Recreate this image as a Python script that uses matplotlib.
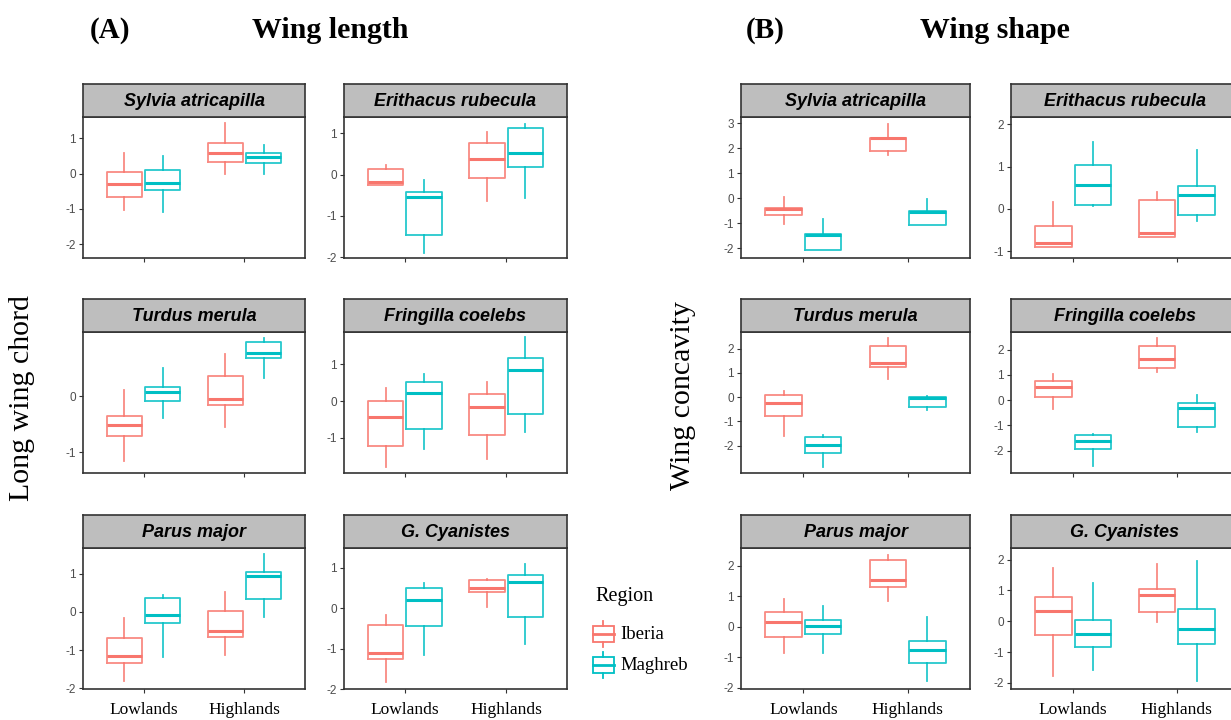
import matplotlib
matplotlib.use("Agg")
import matplotlib.pyplot as plt
from matplotlib.patches import Rectangle

plt.rcParams['axes.unicode_minus'] = False

W, H = 1231, 720

species = ['Sylvia atricapilla', 'Erithacus rubecula', 'Turdus merula',
           'Fringilla coelebs', 'Parus major', 'G. Cyanistes']
habitats = ['Lowlands', 'Highlands']
regions = ['Iberia', 'Maghreb']
colors = {'Iberia': '#F8766D', 'Maghreb': '#00BFC4'}

# five-number summaries (whisker low, q1, median, q3, whisker high), per species
length_iberia_low = [(-1.02, -0.67, -0.29, 0.03, 0.57), (-0.26, -0.26, -0.18, 0.14, 0.23),
                     (-1.15, -0.70, -0.52, -0.36, 0.11), (-1.79, -1.21, -0.44, 0.0, 0.36),
                     (-1.82, -1.34, -1.16, -0.68, -0.15), (-1.82, -1.26, -1.10, -0.41, -0.17)]
length_maghreb_low = [(-1.09, -0.47, -0.28, 0.09, 0.50), (-1.89, -1.47, -0.53, -0.43, -0.14),
                      (-0.39, -0.08, 0.08, 0.17, 0.51), (-1.31, -0.75, 0.21, 0.52, 0.73),
                      (-1.19, -0.29, -0.09, 0.37, 0.43), (-1.16, -0.44, 0.20, 0.50, 0.62)]
length_iberia_high = [(-0.02, 0.33, 0.59, 0.87, 1.42), (-0.64, -0.09, 0.39, 0.77, 1.04),
                      (-0.54, -0.15, -0.05, 0.36, 0.75), (-1.58, -0.91, -0.15, 0.19, 0.52),
                      (-1.13, -0.66, -0.50, 0.03, 0.53), (0.02, 0.39, 0.49, 0.71, 0.73)]
length_maghreb_high = [(-0.02, 0.31, 0.46, 0.57, 0.81), (-0.56, 0.19, 0.53, 1.14, 1.22),
                       (0.33, 0.68, 0.78, 0.98, 1.05), (-0.83, -0.36, 0.83, 1.16, 1.73),
                       (-0.13, 0.34, 0.95, 1.05, 1.52), (-0.89, -0.21, 0.64, 0.83, 1.10)]

shape_iberia_low = [(-1.03, -0.68, -0.42, -0.39, 0.04), (-0.89, -0.89, -0.81, -0.41, 0.16),
                    (-1.59, -0.77, -0.26, 0.10, 0.25), (-0.36, 0.11, 0.50, 0.76, 1.05),
                    (-0.87, -0.32, 0.16, 0.48, 0.91), (-1.78, -0.46, 0.32, 0.79, 1.74)]
shape_maghreb_low = [(-2.08, -2.08, -1.46, -1.44, -0.84), (0.06, 0.09, 0.57, 1.03, 1.57),
                     (-2.87, -2.30, -1.98, -1.66, -1.57), (-2.63, -1.95, -1.61, -1.39, -1.34),
                     (-0.87, -0.23, 0.03, 0.24, 0.69), (-1.57, -0.85, -0.42, 0.04, 1.24)]
shape_iberia_high = [(1.73, 1.87, 2.39, 2.42, 2.98), (-0.66, -0.66, -0.58, 0.21, 0.40),
                     (0.74, 1.22, 1.39, 2.10, 2.45), (1.12, 1.29, 1.64, 2.13, 2.46),
                     (0.85, 1.31, 1.55, 2.21, 2.35), (-0.01, 0.29, 0.84, 1.04, 1.85)]
shape_maghreb_high = [(-1.07, -1.07, -0.55, -0.52, -0.03), (-0.29, -0.14, 0.33, 0.53, 1.40),
                      (-0.54, -0.40, -0.05, 0.0, 0.04), (-1.28, -1.07, -0.33, -0.11, 0.22),
                      (-1.78, -1.17, -0.77, -0.45, 0.32), (-1.94, -0.75, -0.24, 0.40, 1.95)]

length_ylims = [(-2.39, 1.60), (-2.02, 1.40), (-1.37, 1.15), (-1.95, 1.87), (-2.02, 1.67), (-2.0, 1.49)]
length_ticks = [[-2, -1, 0, 1], [-2, -1, 0, 1], [-1, 0], [-1, 0, 1], [-2, -1, 0, 1], [-2, -1, 0, 1]]
shape_ylims = [(-2.38, 3.24), (-1.16, 2.17), (-3.13, 2.68), (-2.89, 2.70), (-2.04, 2.59), (-2.2, 2.38)]
shape_ticks = [[-2, -1, 0, 1, 2, 3], [-1, 0, 1, 2], [-2, -1, 0, 1, 2], [-2, -1, 0, 1, 2],
               [-2, -1, 0, 1, 2], [-2, -1, 0, 1, 2]]


def px_axes(fig, x0, y0, x1, y1):
    return fig.add_axes([x0 / W, 1 - y1 / H, (x1 - x0) / W, (y1 - y0) / H])


def stats(five):
    lo, q1, med, q3, hi = five
    return dict(whislo=lo, q1=q1, med=med, q3=q3, whishi=hi, fliers=[])


fig = plt.figure(figsize=(W / 100, H / 100), dpi=100)

rows = [(84, 117, 258), (299, 332, 473), (515, 548, 689)]
left_cols = [(83, 305), (344, 567)]
right_cols = [(741, 970), (1011, 1239)]

panels = [
    (left_cols, length_iberia_low, length_iberia_high, length_maghreb_low, length_maghreb_high,
     length_ylims, length_ticks),
    (right_cols, shape_iberia_low, shape_iberia_high, shape_maghreb_low, shape_maghreb_high,
     shape_ylims, shape_ticks),
]

for cols, ib_lo, ib_hi, ma_lo, ma_hi, ylims, ticks in panels:
    for i, sp in enumerate(species):
        r, c = divmod(i, 2)
        st, pt, pb = rows[r]
        x0, x1 = cols[c]
        ax = px_axes(fig, x0, pt, x1, pb)
        for reg, lo, hi, off in [('Iberia', ib_lo, ib_hi, -0.19), ('Maghreb', ma_lo, ma_hi, 0.19)]:
            col = colors[reg]
            ax.bxp([stats(lo[i]), stats(hi[i])], positions=[1 + off, 2 + off], widths=0.35,
                   showfliers=False, showcaps=False, patch_artist=False,
                   boxprops=dict(color=col, lw=1.3, alpha=0.85),
                   whiskerprops=dict(color=col, lw=1.3, alpha=0.85),
                   medianprops=dict(color=col, lw=2.2))
        ax.set_xlim(0.4, 2.6)
        ax.set_ylim(*ylims[i])
        ax.set_yticks(ticks[i])
        ax.set_yticklabels([str(t) for t in ticks[i]], fontsize=8.5, color='#4D4D4D',
                           family='Liberation Sans')
        ax.set_xticks([1, 2])
        if r == 2:
            ax.set_xticklabels(habitats, fontsize=12.5, family='Liberation Serif', color='black')
            ax.tick_params(axis='x', pad=6)
        else:
            ax.set_xticklabels([])
        ax.tick_params(length=3, width=0.8, color='#333333')
        ax.tick_params(axis='y', pad=2)
        for s in ax.spines.values():
            s.set_color('#333333')
            s.set_linewidth(1.2)

        sax = px_axes(fig, x0, st, x1, pt)
        sax.set_facecolor('#BEBEBE')
        sax.set_xticks([])
        sax.set_yticks([])
        for s in sax.spines.values():
            s.set_color('#333333')
            s.set_linewidth(1.2)
        sax.text(0.5, 0.47, sp, transform=sax.transAxes, ha='center', va='center',
                 fontsize=13, fontweight='bold', fontstyle='italic', family='Liberation Sans')

# titles and axis labels
fig.text(90 / W, 1 - 30 / H, '(A)', fontsize=21, fontweight='bold', family='Liberation Serif',
         ha='left', va='center')
fig.text(330 / W, 1 - 30 / H, 'Wing length', fontsize=21.5, fontweight='bold',
         family='Liberation Serif', ha='center', va='center')
fig.text(746 / W, 1 - 30 / H, '(B)', fontsize=21, fontweight='bold', family='Liberation Serif',
         ha='left', va='center')
fig.text(995 / W, 1 - 30 / H, 'Wing shape', fontsize=21.5, fontweight='bold',
         family='Liberation Serif', ha='center', va='center')
fig.text(22 / W, 1 - 398 / H, 'Long wing chord', rotation=90, fontsize=21.5,
         family='Liberation Serif', ha='center', va='center')
fig.text(683 / W, 1 - 395 / H, 'Wing concavity', rotation=90, fontsize=21.5,
         family='Liberation Serif', ha='center', va='center')

# legend
fig.text(595 / W, 1 - 597 / H, 'Region', fontsize=14.5, family='Liberation Serif',
         ha='left', va='center')
lax = px_axes(fig, 588, 615, 720, 685)
lax.set_xlim(588, 720)
lax.set_ylim(685, 615)
lax.axis('off')
for reg, yc in zip(regions, [634, 665]):
    col = colors[reg]
    lax.add_patch(Rectangle((593, yc - 8), 21, 16, fill=False, ec=col, lw=1.3))
    lax.plot([593, 614], [yc, yc], color=col, lw=2)
    lax.plot([603.5, 603.5], [yc - 13, yc - 8], color=col, lw=1.3)
    lax.plot([603.5, 603.5], [yc + 8, yc + 13], color=col, lw=1.3)
    lax.text(620, yc, reg, fontsize=13.5, family='Liberation Serif', ha='left', va='center')

fig.savefig('out.png', dpi=100)
